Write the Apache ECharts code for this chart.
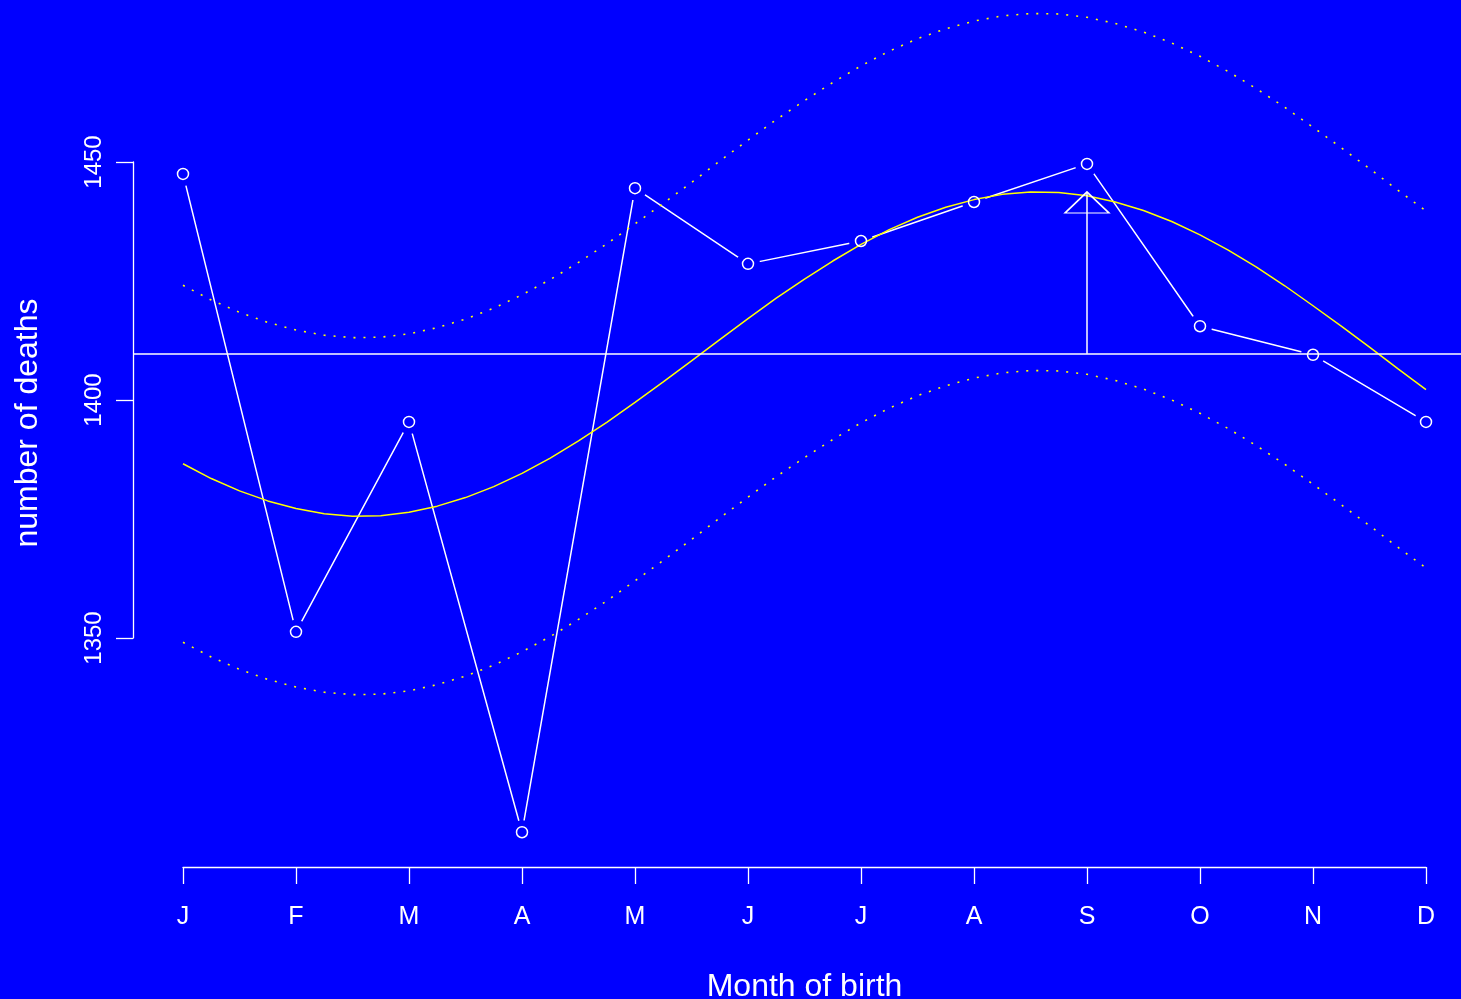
<!DOCTYPE html>
<html>
<head>
<meta charset="utf-8">
<script src="https://cdn.jsdelivr.net/npm/echarts@6/dist/echarts.min.js"></script>
<style>
html,body{margin:0;padding:0;background:#0000ff;}
#chart{width:1461px;height:999px;}
</style>
</head>
<body>
<div id="chart"></div>
<script>
// ---- data ----
const monthLabels = ['J','F','M','A','M','J','J','A','S','O','N','D'];
const deaths = [1447.5, 1351.3, 1395.4, 1309.2, 1444.5, 1428.6, 1433.4, 1441.6, 1449.6, 1415.5, 1409.5, 1395.4];
const meanDeaths = 1409.7;
const fitMonths = [0,0.25,0.5,0.75,1,1.25,1.5,1.75,2,2.25,2.5,2.75,3,3.25,3.5,3.75,4,4.25,4.5,4.75,5,5.25,5.5,5.75,6,6.25,6.5,6.75,7,7.25,7.5,7.75,8,8.25,8.5,8.75,9,9.25,9.5,9.75,10,10.25,10.5,10.75,11];
const fitted = [1386.6,1383.5,1380.9,1378.8,1377.2,1376.1,1375.6,1375.7,1376.4,1377.7,1379.5,1381.8,1384.6,1387.8,1391.4,1395.3,1399.5,1403.8,1408.2,1412.7,1417.1,1421.4,1425.4,1429.2,1432.7,1435.8,1438.4,1440.5,1442.1,1443.2,1443.7,1443.6,1442.9,1441.6,1439.8,1437.5,1434.7,1431.5,1427.9,1424.0,1419.8,1415.5,1411.1,1406.6,1402.2];
const upperBand = [1424.1,1421.0,1418.4,1416.3,1414.7,1413.6,1413.1,1413.2,1413.9,1415.2,1417.0,1419.3,1422.1,1425.3,1428.9,1432.8,1437.0,1441.3,1445.7,1450.2,1454.6,1458.9,1462.9,1466.7,1470.2,1473.3,1475.9,1478.0,1479.6,1480.7,1481.2,1481.1,1480.4,1479.1,1477.3,1475.0,1472.2,1469.0,1465.4,1461.5,1457.3,1453.0,1448.6,1444.1,1439.7];
const lowerBand = [1349.1,1346.0,1343.4,1341.3,1339.7,1338.6,1338.1,1338.2,1338.9,1340.2,1342.0,1344.3,1347.1,1350.3,1353.9,1357.8,1362.0,1366.3,1370.7,1375.2,1379.6,1383.9,1387.9,1391.7,1395.2,1398.3,1400.9,1403.0,1404.6,1405.7,1406.2,1406.1,1405.4,1404.1,1402.3,1400.0,1397.2,1394.0,1390.4,1386.5,1382.3,1378.0,1373.6,1369.1,1364.7];
const arrowMonth = 8;
const peakLevel = 1443.7;
const yTicks = {min:1350, max:1450, step:50};

// ---- layout ----
const BLUE = '#0000ff', WHITE = '#ffffff', YELLOW = '#ffff00';
const FONT = 'Liberation Sans';
const xLeftPx = 183, xRightPx = 1426, axisXPx = 133, axisYPx = 867, W = 1461;
const pxPerMonth = (xRightPx - xLeftPx) / 11;
const xMin = -(xLeftPx - axisXPx) / pxPerMonth;
const xMax = 11 + (W - xRightPx) / pxPerMonth;
const y1450Px = 162, y1350Px = 638;
const pxPerUnit = (y1350Px - y1450Px) / 100;
const yMax = 1450 + y1450Px / pxPerUnit;
const yMin = 1350 - (axisYPx - y1350Px) / pxPerUnit;

const pts = deaths.map((v,i)=>[i,v]);
const zip = (xs, ys) => xs.map((x,i)=>[x, ys[i]]);

const chart = echarts.init(document.getElementById('chart'), null, {renderer:'canvas'});
chart.setOption({
  backgroundColor: BLUE,
  animation: false,
  textStyle: {fontFamily: FONT},
  grid: [
    {left: axisXPx, right: 0, top: 0, bottom: 999 - axisYPx},
    {left: xLeftPx, right: W - xRightPx, top: axisYPx - 1, bottom: 999 - axisYPx},
    {left: axisXPx, top: y1450Px, height: y1350Px - y1450Px, width: 10}
  ],
  xAxis: [
    {gridIndex:0, type:'value', min:xMin, max:xMax, show:false},
    {gridIndex:1, type:'category', data: monthLabels, boundaryGap:false,
      axisLine:{show:true, lineStyle:{color:WHITE, width:1.3}},
      axisTick:{show:true, length:17, lineStyle:{color:WHITE, width:1.3}, alignWithLabel:true},
      axisLabel:{show:true, color:WHITE, fontSize:25, fontFamily:FONT, margin:38, interval:0},
      splitLine:{show:false}},
    {gridIndex:2, type:'value', show:false}
  ],
  yAxis: [
    {gridIndex:0, type:'value', min:yMin, max:yMax, show:false},
    {gridIndex:1, type:'value', show:false},
    {gridIndex:2, type:'value', min:yTicks.min, max:yTicks.max, interval:yTicks.step,
      axisLine:{show:true, lineStyle:{color:WHITE, width:1.3}},
      axisTick:{show:true, length:17, lineStyle:{color:WHITE, width:1.3}},
      axisLabel:{show:true, color:WHITE, fontSize:24, fontFamily:FONT, rotate:90, margin:27,
        formatter: v => String(v)},
      splitLine:{show:false}}
  ],
  graphic: [
    {type:'text', x: 28, y: 423, rotation: Math.PI/2,
      style:{text:'number of deaths', fill:WHITE, font:'32px "Liberation Sans"', align:'center', verticalAlign:'middle'}},
    {type:'text', x: (xLeftPx + xRightPx)/2, y: 987,
      style:{text:'Month of birth', fill:WHITE, font:'32px "Liberation Sans"', align:'center', verticalAlign:'middle'}}
  ],
  series: [
    {type:'line', xAxisIndex:0, yAxisIndex:0, data: pts, z:1, showSymbol:false, silent:true,
      lineStyle:{color:WHITE, width:1.5}},
    {type:'scatter', xAxisIndex:0, yAxisIndex:0, data: pts, z:2, symbol:'circle', symbolSize:24, silent:true,
      itemStyle:{color:BLUE, opacity:1}},
    {type:'line', xAxisIndex:0, yAxisIndex:0, data: zip(fitMonths, fitted), z:3, showSymbol:false, silent:true,
      lineStyle:{color:YELLOW, width:1.5}},
    {type:'line', xAxisIndex:0, yAxisIndex:0, data: zip(fitMonths, upperBand), z:3, showSymbol:false, silent:true,
      lineStyle:{color:YELLOW, width:1.6, type:[2,8]}},
    {type:'line', xAxisIndex:0, yAxisIndex:0, data: zip(fitMonths, lowerBand), z:3, showSymbol:false, silent:true,
      lineStyle:{color:YELLOW, width:1.6, type:[2,8]}},
    {type:'scatter', xAxisIndex:0, yAxisIndex:0, data: [[arrowMonth, peakLevel]], z:3, silent:true,
      symbol:'triangle', symbolSize:[44,21], symbolOffset:[0,'50%'],
      itemStyle:{color:'rgba(0,0,0,0)', borderColor:WHITE, borderWidth:1.5, opacity:1}},
    {type:'line', xAxisIndex:0, yAxisIndex:0, data: [[arrowMonth, meanDeaths],[arrowMonth, peakLevel]], z:3, showSymbol:false, silent:true,
      lineStyle:{color:WHITE, width:1.5},
      markLine:{silent:true, symbol:['none','none'], label:{show:false},
        lineStyle:{color:WHITE, width:1.5, type:'solid'}, data:[{yAxis: meanDeaths}]}},
    {type:'scatter', xAxisIndex:0, yAxisIndex:0, data: pts, z:4, symbol:'circle', symbolSize:11, silent:true,
      itemStyle:{color:'rgba(0,0,0,0)', borderColor:WHITE, borderWidth:1.5, opacity:1}}
  ]
});
</script>
</body>
</html>
